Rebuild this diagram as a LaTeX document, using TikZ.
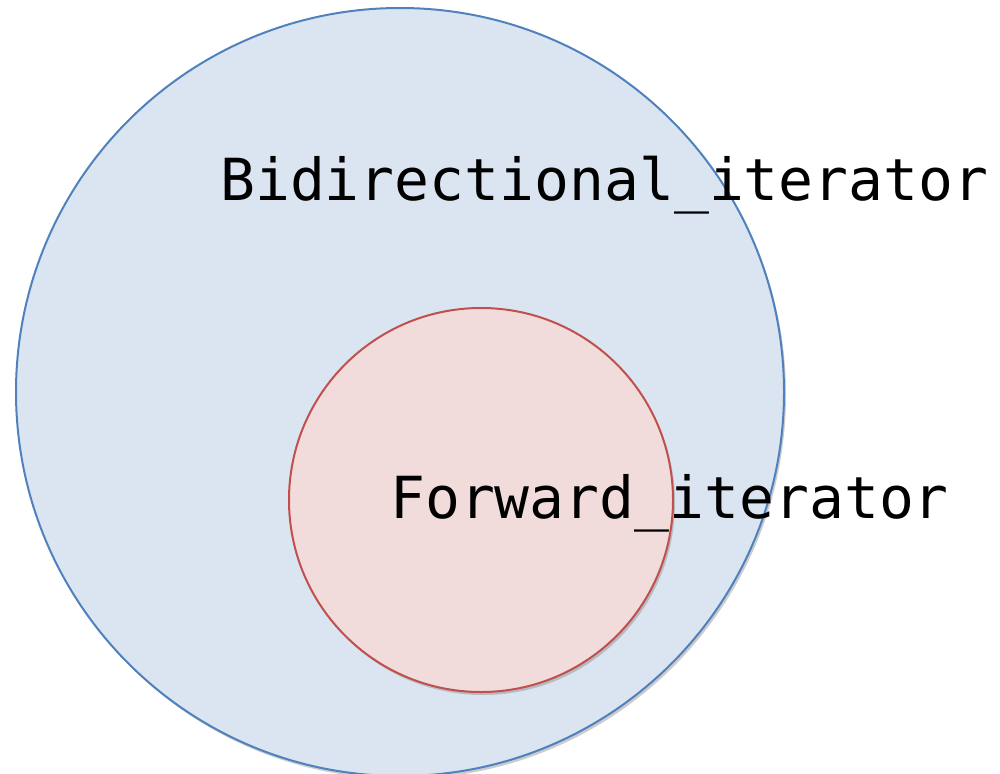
\documentclass[tikz,border=0pt]{standalone}
\usepackage{fontspec}
\setmonofont{DejaVu Sans Mono}
\usetikzlibrary{shadows}
\definecolor{bluefill}{HTML}{DBE5F1}
\definecolor{blueline}{HTML}{4F81BD}
\definecolor{redfill}{HTML}{F2DCDB}
\definecolor{redline}{HTML}{C0504D}
\begin{document}
\begin{tikzpicture}[x=1pt,y=-1pt,
  set/.style={circle,inner sep=0pt,line width=2pt,
    drop shadow={shadow xshift=2pt,shadow yshift=-3pt,opacity=0.4}},
  label/.style={inner sep=0pt,anchor=base west,font=\ttfamily\fontsize{58}{60}\selectfont}]
\useasboundingbox (0,0) rectangle (1000,773);
\node[set,draw=blueline,fill=bluefill,minimum size=768pt] (bidi) at (400,392) {};
\node[set,draw=redline,fill=redfill,minimum size=384pt] (fwd) at (481,500) {};
\node[label] (bidilabel) at (220,200) {Bidirectional\_iterator};
\node[label] (fwdlabel) at (390,518) {Forward\_iterator};
\end{tikzpicture}
\end{document}
